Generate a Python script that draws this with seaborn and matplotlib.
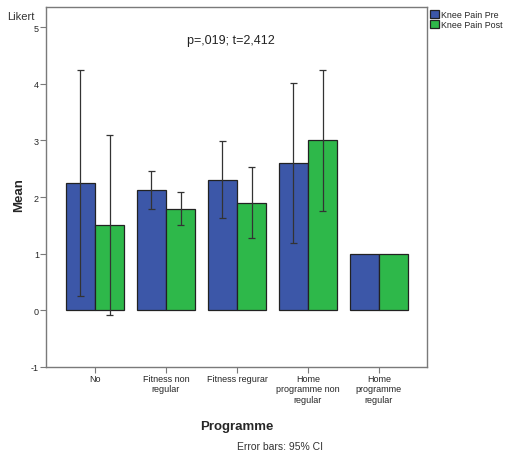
import matplotlib
matplotlib.use("Agg")
import matplotlib.pyplot as plt
import pandas as pd
import seaborn as sns

# Data
programmes = ["No", "Fitness non\nregular", "Fitness regurar",
              "Home\nprogramme non\nregular", "Home\nprogramme\nregular"]
series = ["Knee Pain Pre", "Knee Pain Post"]
mean_pre = [2.25, 2.12, 2.30, 2.60, 1.00]
mean_post = [1.50, 1.79, 1.90, 3.00, 1.00]
ci_low_pre = [0.26, 1.79, 1.63, 1.19, None]
ci_high_pre = [4.25, 2.46, 2.98, 4.02, None]
ci_low_post = [-0.08, 1.50, 1.28, 1.76, None]
ci_high_post = [3.10, 2.08, 2.53, 4.25, None]

COL_PRE = "#3C57A8"
COL_POST = "#2EB84A"
GRIS = "#7a7a7a"

sns.set_style("white")
plt.rcParams["font.family"] = ["Liberation Sans", "DejaVu Sans"]
plt.rcParams["axes.unicode_minus"] = False

df = pd.DataFrame({
    "Programme": programmes * 2,
    "serie": [series[0]] * len(programmes) + [series[1]] * len(programmes),
    "Mean": mean_pre + mean_post,
})

fig = plt.figure(figsize=(5.05, 4.56), dpi=100)
ax = fig.add_axes([0.091, 0.193, 0.755, 0.789])

sns.barplot(data=df, x="Programme", y="Mean", hue="serie",
            palette=[COL_PRE, COL_POST], errorbar=None, width=0.82,
            edgecolor="#222222", linewidth=0.9, saturation=1, ax=ax)

# Barres d'erreur (IC 95 %) centrées sur chaque barre
lows = ci_low_pre + ci_low_post
highs = ci_high_pre + ci_high_post
bars = ax.patches[:len(lows)]
for bar, lo, hi in zip(bars, lows, highs):
    if lo is None:
        continue
    xc = bar.get_x() + bar.get_width() / 2
    ax.vlines(xc, lo, hi, color="#333333", linewidth=0.9, zorder=4)
    ax.hlines([lo, hi], xc - 0.05, xc + 0.05, color="#333333",
              linewidth=0.9, zorder=4)

ax.set_xlim(-0.69, 4.68)
ax.set_ylim(-1, 5.35)
ax.set_yticks(range(-1, 6))
ax.tick_params(axis="both", which="both", direction="out", length=4,
               width=0.8, color=GRIS, labelsize=6.5, pad=1,
               left=True, bottom=True)
for s in ax.spines.values():
    s.set_color(GRIS)
    s.set_linewidth(1.0)

ax.set_xlabel("Programme", fontsize=9.5, fontweight="bold", labelpad=12)
ax.set_ylabel("Mean", fontsize=9.5, fontweight="bold")
ax.yaxis.set_label_coords(-0.055, 0.48)
ax.text(-0.102, 0.99, "Likert", transform=ax.transAxes, fontsize=8,
        ha="left", va="top", color="#333333")
ax.text(0.37, 0.91, "p=,019; t=2,412", transform=ax.transAxes,
        fontsize=9, color="#222222", ha="left", va="center")

ax.legend(loc="upper left", bbox_to_anchor=(1.0, 1.0), frameon=False,
          fontsize=6.4, handlelength=1.0, handleheight=1.0,
          handletextpad=0.3, labelspacing=0.15, borderaxespad=0.1,
          borderpad=0.2)

fig.text(0.555, 0.008, "Error bars: 95% CI", fontsize=7.5,
         ha="center", va="bottom", color="#333333")

fig.savefig("out.png", dpi=100, facecolor="white")
